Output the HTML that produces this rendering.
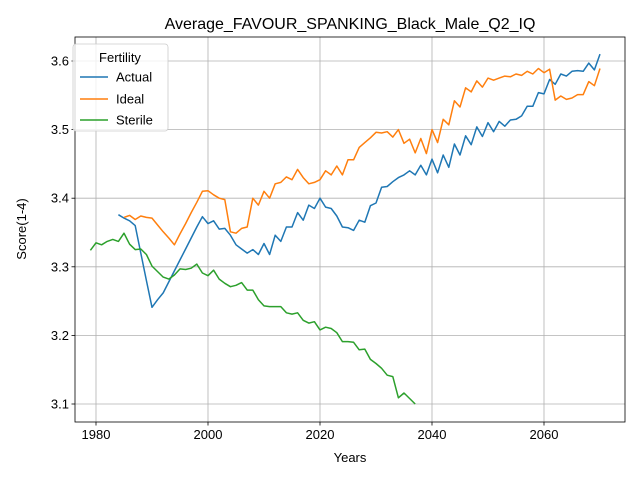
<!DOCTYPE html>
<html><head><meta charset="utf-8"><style>
body{margin:0;background:#fff;}
svg{display:block;font-family:"Liberation Sans","DejaVu Sans",sans-serif;}
</style></head><body>
<svg id="chart" width="640" height="480"></svg>
<script>
const actualYears = [];for(let y=1984;y<=2070;y++)actualYears.push(y);
const actualValues = [3.376,3.371,3.367,3.36,3.32,3.28,3.241,3.252,3.262,3.278,3.294,3.31,3.326,3.342,3.358,3.373,3.363,3.367,3.355,3.356,3.346,3.332,3.326,3.32,3.325,3.318,3.334,3.318,3.346,3.337,3.358,3.358,3.379,3.368,3.39,3.385,3.4,3.387,3.385,3.374,3.358,3.357,3.353,3.368,3.365,3.389,3.393,3.416,3.417,3.424,3.43,3.434,3.44,3.434,3.448,3.434,3.457,3.437,3.463,3.445,3.479,3.463,3.491,3.478,3.504,3.49,3.51,3.497,3.512,3.505,3.514,3.515,3.52,3.534,3.534,3.554,3.552,3.573,3.566,3.581,3.578,3.585,3.586,3.585,3.597,3.587,3.61];
const idealYears = [];for(let y=1985;y<=2070;y++)idealYears.push(y);
const idealValues = [3.372,3.375,3.369,3.374,3.372,3.371,3.361,3.351,3.342,3.332,3.348,3.363,3.379,3.394,3.41,3.411,3.405,3.4,3.398,3.351,3.349,3.356,3.358,3.4,3.39,3.41,3.4,3.421,3.423,3.431,3.427,3.442,3.43,3.421,3.423,3.427,3.44,3.434,3.447,3.434,3.456,3.456,3.474,3.481,3.488,3.496,3.495,3.497,3.489,3.5,3.48,3.486,3.466,3.487,3.465,3.5,3.481,3.515,3.507,3.542,3.533,3.561,3.555,3.571,3.562,3.575,3.572,3.575,3.578,3.577,3.581,3.579,3.585,3.581,3.589,3.583,3.588,3.543,3.549,3.544,3.546,3.551,3.551,3.57,3.564,3.589];
const sterileYears = [];for(let y=1979;y<=2037;y++)sterileYears.push(y);
const sterileValues = [3.324,3.335,3.332,3.337,3.34,3.337,3.349,3.333,3.325,3.326,3.318,3.301,3.293,3.285,3.282,3.288,3.297,3.296,3.298,3.304,3.291,3.287,3.295,3.282,3.276,3.271,3.273,3.277,3.266,3.266,3.252,3.243,3.242,3.242,3.242,3.233,3.231,3.233,3.222,3.218,3.22,3.208,3.212,3.21,3.204,3.191,3.191,3.19,3.179,3.18,3.165,3.159,3.152,3.142,3.14,3.109,3.116,3.108,3.1];
const xTicks = [1980,2000,2020,2040,2060];
const yTicks = [3.1,3.2,3.3,3.4,3.5,3.6];

const L=75,R=625,T=37,B=422;
const xs = v => 96 + (v-1980)*5.6;
const ys = v => 404 - (v-3.1)*686;
const svg=document.getElementById('chart');
const NS='http://www.w3.org/2000/svg';
function mk(tag,attrs,parent){const e=document.createElementNS(NS,tag);for(const k in attrs)e.setAttribute(k,attrs[k]);(parent||svg).appendChild(e);return e;}

const grid=mk('g',{});


xTicks.forEach(t=>{
  mk('line',{x1:xs(t),x2:xs(t),y1:T,y2:B,stroke:'#b0b0b0','stroke-width':0.8},grid);
  mk('line',{x1:xs(t),x2:xs(t),y1:B,y2:B+3.5,stroke:'#000','stroke-width':0.8});
  const tx=mk('text',{x:xs(t),y:B+17,'text-anchor':'middle','font-size':13,fill:'#000'});
  
  
  tx.textContent=t;
});
yTicks.forEach(t=>{
  mk('line',{x1:L,x2:R,y1:ys(t),y2:ys(t),stroke:'#b0b0b0','stroke-width':0.8},grid);
  mk('line',{x1:L-3.5,x2:L,y1:ys(t),y2:ys(t),stroke:'#000','stroke-width':0.8});
  const tx=mk('text',{x:L-6,y:ys(t)+4.5,'text-anchor':'end','font-size':13,fill:'#000'});
  
  
  tx.textContent=t.toFixed(1);
});

function series(xsArr,vals,color,name){
  const p=mk('polyline',{points:xsArr.map((x,i)=>xs(x).toFixed(1)+','+ys(vals[i]).toFixed(1)).join(' '),fill:'none',stroke:color,'stroke-width':1.5,'stroke-linejoin':'round'});
  
  
}
series(actualYears,actualValues,'#1f77b4','actual-line');
series(idealYears,idealValues,'#ff7f0e','ideal-line');
series(sterileYears,sterileValues,'#2ca02c','sterile-line');

const frame=mk('rect',{x:L,y:T,width:R-L,height:B-T,fill:'none',stroke:'#000','stroke-width':0.8});



const title=mk('text',{x:350,y:29,'text-anchor':'middle','font-size':16,fill:'#000'});


title.textContent='Average_FAVOUR_SPANKING_Black_Male_Q2_IQ';
const xl=mk('text',{x:350,y:462,'text-anchor':'middle','font-size':13,fill:'#000'});


xl.textContent='Years';
const yl=mk('text',{x:26,y:229,'text-anchor':'middle','font-size':13,fill:'#000',transform:'rotate(-90 26 229)'});


yl.textContent='Score(1-4)';

const lg=mk('g',{});


mk('rect',{x:73,y:44,width:95,height:87,rx:3,fill:'#fff','fill-opacity':0.8,stroke:'#ccc','stroke-width':0.8},lg);
const lt=mk('text',{x:120,y:62,'text-anchor':'middle','font-size':13,fill:'#000'},lg);


lt.textContent='Fertility';
[['Actual','#1f77b4',77],['Ideal','#ff7f0e',99],['Sterile','#2ca02c',120]].forEach(([n,c,y])=>{
  mk('line',{x1:80,x2:108,y1:y,y2:y,stroke:c,'stroke-width':1.5},lg);
  const t=mk('text',{x:116,y:y+4.5,'font-size':13,fill:'#000'},lg);
  
  
  t.textContent=n;
});
</script>
</body></html>
